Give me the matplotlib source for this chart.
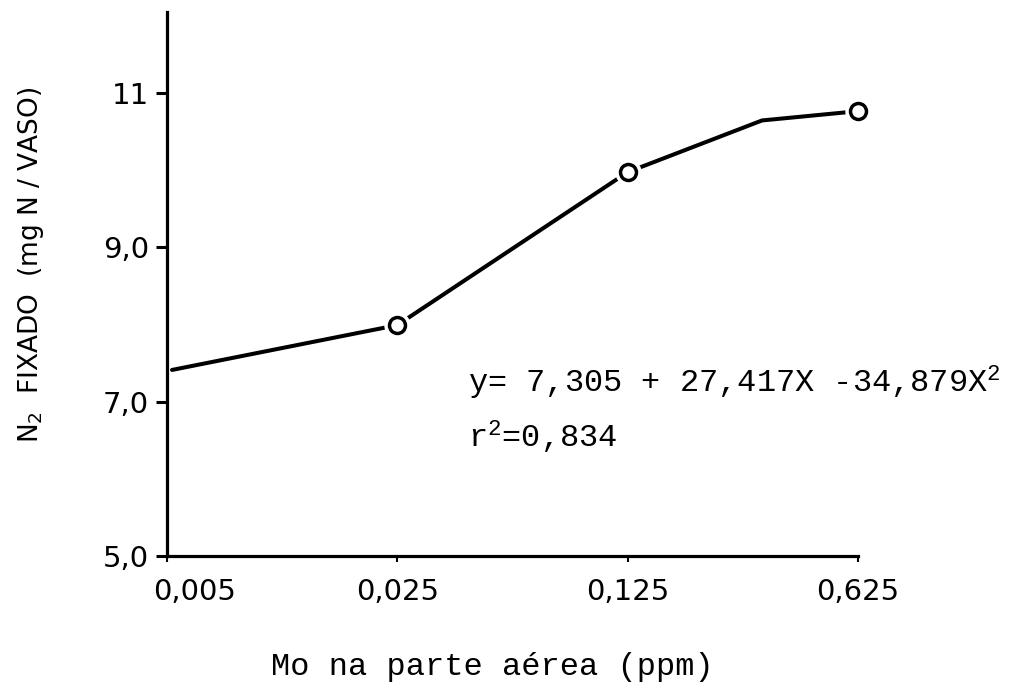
import matplotlib.pyplot as plt
import matplotlib.transforms as mtransforms
import numpy as np

plt.rcParams['mathtext.fontset'] = 'custom'
plt.rcParams['mathtext.rm'] = 'Liberation Mono'
plt.rcParams['mathtext.it'] = 'Liberation Mono'
plt.rcParams['mathtext.sf'] = 'DejaVu Sans'

# Mo doses (ppm) and N2 fixed (mg N / vaso)
doses = [0.005, 0.025, 0.125, 0.625]
dose_labels = ['0,005', '0,025', '0,125', '0,625']
fixed_n = [7.99, 9.97, 10.76]          # measured points (open circles)
fixed_doses = [0.025, 0.125, 0.625]

# hand drawn response line
curve_x = [0.00518, 0.025, 0.125, 0.32, 0.625]
curve_y = [7.41, 7.99, 9.97, 10.64, 10.76]

y_ticks = [5.0, 7.0, 9.0, 11.0]
y_labels = ['5,0', '7,0', '9,0', '11']

fig = plt.figure(figsize=(10.2, 6.84), dpi=100)
ax = fig.add_axes([0.1637, 0.187, 0.841 - 0.1637, 0.982 - 0.187])

ax.plot(curve_x, curve_y, color='black', lw=2.9, solid_capstyle='round', zorder=2)
# white halo so the line stops short of each circle
ax.plot(fixed_doses, fixed_n, 'o', ms=18, mfc='white', mec='white', zorder=3, clip_on=False)
ax.plot(fixed_doses, fixed_n, 'o', ms=11.5, mfc='white', mec='black', mew=2.5, zorder=4,
        clip_on=False)

ax.set_xscale('log')
ax.set_xlim(0.005, 0.625)
ax.set_ylim(5.0, 12.04)
ax.set_xticks(doses)
ax.set_xticklabels(dose_labels)
ax.minorticks_off()
ax.set_yticks(y_ticks)
ax.set_yticklabels(y_labels)

for side in ['top', 'right']:
    ax.spines[side].set_visible(False)
for side in ['left', 'bottom']:
    ax.spines[side].set_linewidth(2.3)

ax.tick_params(axis='x', direction='out', length=4, width=1.5, pad=12, labelsize=21)
ax.tick_params(axis='y', direction='out', length=8, width=2.2, pad=5, labelsize=21)

# first x label sits to the right of its tick
shift = mtransforms.ScaledTranslation(20 / 72, 0, fig.dpi_scale_trans)
first = ax.get_xticklabels()[0]
first.set_transform(first.get_transform() + shift)

fig.text(0.03, 0.613, r'N$_\mathsf{2}$  FIXADO  (mg N / VASO)', rotation=90,
         ha='center', va='center', fontsize=19)
fig.text(0.483, 0.025, 'Mo na parte aérea (ppm)', family='Liberation Mono',
         ha='center', va='center', fontsize=23)

fig.text(0.459, 0.44, r'y= 7,305 + 27,417X -34,879X$^2$', family='Liberation Mono',
         ha='left', va='center', fontsize=23)
fig.text(0.459, 0.361, r'r$^2$=0,834', family='Liberation Mono',
         ha='left', va='center', fontsize=23)

fig.savefig('out.png', dpi=100)
